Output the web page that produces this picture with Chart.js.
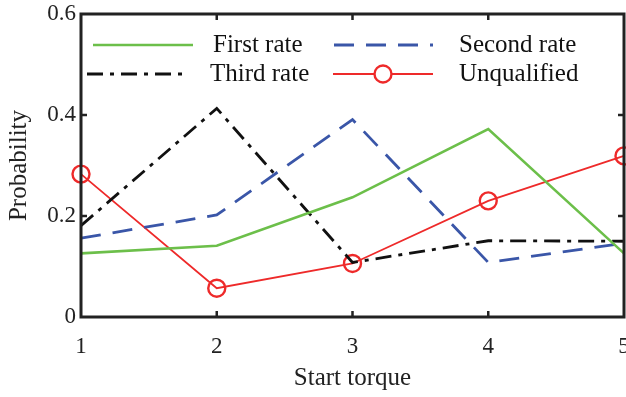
<!DOCTYPE html>
<html>
<head>
<meta charset="utf-8">
<title>Start torque</title>
<script src="https://cdn.jsdelivr.net/npm/chart.js"></script>
<style>
  html, body { margin: 0; padding: 0; background: #fff; }
  #wrap { width: 626px; height: 397px; }
</style>
</head>
<body>
<div id="wrap"><canvas id="torqueChart" width="626" height="397"></canvas></div>
<script>
// values
const torque = [1, 2, 3, 4, 5];
const firstRate = [0.126, 0.141, 0.237, 0.372, 0.126];
const secondRate = [0.156, 0.202, 0.391, 0.108, 0.146];
const thirdRate = [0.181, 0.413, 0.108, 0.151, 0.150];
const unqualified = [0.283, 0.057, 0.106, 0.230, 0.319];
const yTicks = [0, 0.2, 0.4, 0.6];

const serif = '"Liberation Serif", "Times New Roman", serif';

function pts(vals) {
  return torque.map((x, i) => ({ x: x, y: vals[i] }));
}

const datasets = [
  { label: 'First rate', data: pts(firstRate), borderColor: '#6cbf4a', borderWidth: 2.6, pointRadius: 0 },
  { label: 'Second rate', data: pts(secondRate), borderColor: '#3a56a8', borderWidth: 2.8, borderDash: [20, 12], pointRadius: 0 },
  { label: 'Third rate', data: pts(thirdRate), borderColor: '#111', borderWidth: 2.8, borderDash: [16, 7, 4, 7], pointRadius: 0 },
  { label: 'Unqualified', data: pts(unqualified), borderColor: '#ee2a2a', borderWidth: 1.8, pointRadius: 8.5,
    pointBorderWidth: 2.4, pointBackgroundColor: 'rgba(0,0,0,0)', pointBorderColor: '#ee2a2a', pointHoverRadius: 8.5 }
];
datasets.forEach(d => { d.tension = 0; d.fill = false; d.clip = false; });

// legend entries: [dataset index, sample x start, sample x end, text x, y]
const legendRows = [
  [0, 93, 193, 213, 45],
  [1, 334, 433, 459, 45],
  [2, 87, 186, 210, 74],
  [3, 333, 433, 459, 74]
];

const boxPlugin = {
  id: 'box',
  afterDatasetsDraw(chart) {
    const ctx = chart.ctx;
    const a = chart.chartArea;
    const xs = chart.scales.x, ys = chart.scales.y;
    ctx.save();
    ctx.strokeStyle = '#222';
    ctx.lineWidth = 3;
    ctx.strokeRect(a.left, a.top, a.right - a.left, a.bottom - a.top);
    ctx.lineWidth = 2.5;
    ctx.beginPath();
    torque.slice(1, -1).forEach(v => {
      const px = xs.getPixelForValue(v);
      ctx.moveTo(px, a.bottom); ctx.lineTo(px, a.bottom - 6);
      ctx.moveTo(px, a.top); ctx.lineTo(px, a.top + 6);
    });
    yTicks.slice(1, -1).forEach(v => {
      const py = ys.getPixelForValue(v);
      ctx.moveTo(a.left, py); ctx.lineTo(a.left + 6, py);
      ctx.moveTo(a.right, py); ctx.lineTo(a.right - 6, py);
    });
    ctx.stroke();

    // legend
    ctx.font = '25px ' + serif;
    ctx.textBaseline = 'middle';
    ctx.fillStyle = '#111';
    legendRows.forEach(([i, x0, x1, tx, y]) => {
      const d = chart.data.datasets[i];
      ctx.strokeStyle = d.borderColor;
      ctx.lineWidth = d.borderWidth;
      ctx.setLineDash(d.borderDash || []);
      ctx.beginPath();
      ctx.moveTo(x0, y); ctx.lineTo(x1, y);
      ctx.stroke();
      ctx.setLineDash([]);
      if (d.pointRadius > 0) {
        ctx.lineWidth = d.pointBorderWidth;
        ctx.beginPath();
        ctx.arc((x0 + x1) / 2, y, d.pointRadius, 0, Math.PI * 2);
        ctx.fillStyle = '#fff';
        ctx.fill();
        ctx.stroke();
        ctx.fillStyle = '#111';
      }
      ctx.fillText(d.label, tx, y);
    });
    ctx.restore();
  }
};

new Chart(document.getElementById('torqueChart'), {
  type: 'line',
  data: { datasets: datasets },
  options: {
    responsive: false,
    animation: false,
    layout: { autoPadding: false, padding: { top: 14, right: 2, left: 0, bottom: 0 } },
    plugins: { legend: { display: false }, tooltip: { enabled: false } },
    scales: {
      x: {
        type: 'linear', min: 1, max: 5,
        afterFit: s => { s.height = 80; s.paddingLeft = 0; s.paddingRight = 0; },
        grid: { display: false },
        border: { display: false },
        ticks: { stepSize: 1, color: '#222', padding: 8, font: { family: serif, size: 23 } },
        title: { display: true, text: 'Start torque', color: '#222', padding: { top: 0, bottom: 4 },
                 font: { family: serif, size: 25 } }
      },
      y: {
        min: 0, max: 0.6,
        afterFit: s => { s.width = 81; s.paddingTop = 0; s.paddingBottom = 0; },
        grid: { display: false },
        border: { display: false },
        afterBuildTicks: s => { s.ticks = yTicks.map(v => ({ value: v })); },
        ticks: { color: '#222', padding: -3, font: { family: serif, size: 23 },
                 callback: v => String(v) },
        title: { display: true, text: 'Probability', color: '#222', padding: { top: 4, bottom: 0 },
                 font: { family: serif, size: 25 } }
      }
    }
  },
  plugins: [boxPlugin]
});
</script>
</body>
</html>
